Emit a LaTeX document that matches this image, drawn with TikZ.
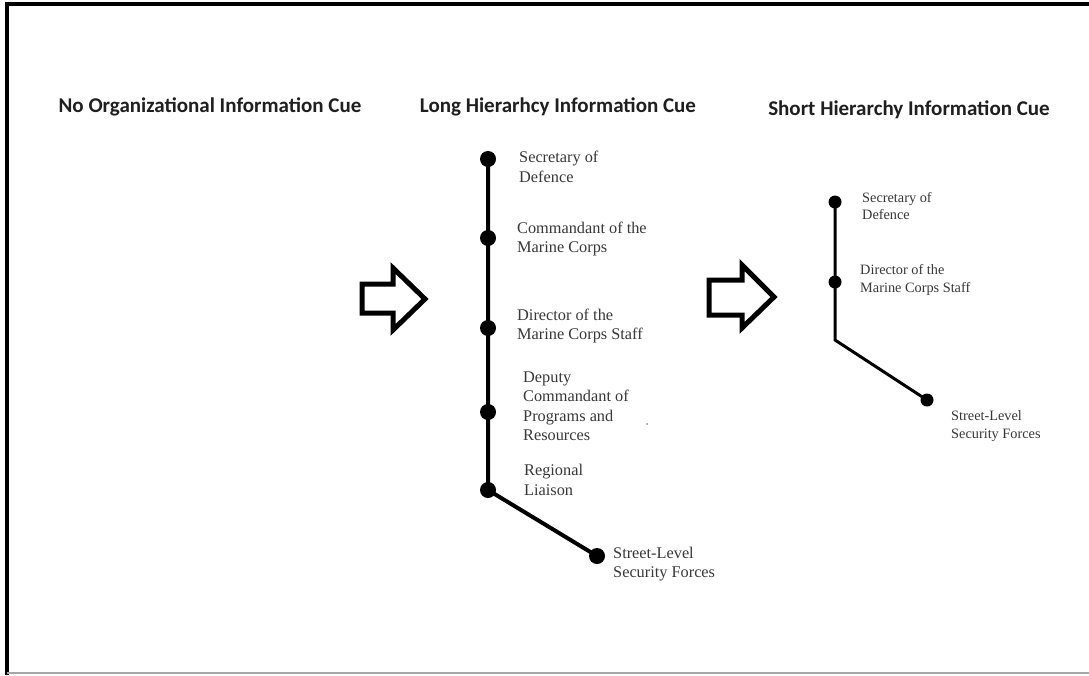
\documentclass[tikz,border=0pt]{standalone}
\usepackage{fontspec}
\setmainfont{Liberation Serif}
\newfontfamily\titlefont{Carlito}
\begin{document}
\begin{tikzpicture}[x=1pt,y=-1pt,
  title/.style={font=\titlefont\bfseries\fontsize{21}{24}\selectfont, text=black!88, inner sep=0pt},
  lbl/.style={font=\fontsize{16.3}{19.5}\selectfont, text=black!78, align=left, anchor=west, inner sep=0pt},
  slbl/.style={font=\fontsize{14.3}{17.5}\selectfont, text=black!78, align=left, anchor=west, inner sep=0pt},
  dot/.style={circle, fill=black, inner sep=0pt, minimum size=16pt},
  sdot/.style={circle, fill=black, inner sep=0pt, minimum size=13pt},
  chain/.style={line width=4pt},
  schain/.style={line width=3pt},
  blockarrow/.style={line width=5pt, line join=miter, fill=white}]
\useasboundingbox (0,0) rectangle (1089,675);
\fill[white] (0,0) rectangle (1089,675);
% frame
\draw[line width=4pt] (6.5,675) -- (6.5,4) -- (1089,4);
\draw[line width=2pt, black!35] (6.5,673) -- (1089,673);
% titles
\node[title] (t1) at (210,107) {No Organizational Information Cue};
\node[title] (t2) at (558,107) {Long Hierarhcy Information Cue};
\node[title] (t3) at (909,110) {Short Hierarchy Information Cue};
% block arrows
\draw[blockarrow] (362,284) -- (393,284) -- (393,268) -- (425,299) -- (393,330) -- (393,313) -- (362,313) -- cycle;
\draw[blockarrow] (709,280) -- (742,280) -- (742,265) -- (774,297) -- (742,328) -- (742,315) -- (709,315) -- cycle;
% long hierarchy
\coordinate (l1) at (488,159);
\coordinate (l2) at (488,238);
\coordinate (l3) at (488,328);
\coordinate (l4) at (488,412);
\coordinate (l5) at (488,490);
\coordinate (l6) at (597,556);
\draw[chain] (l1) -- (l5) -- (l6);
\foreach \p in {l1,l2,l3,l4,l5,l6} \node[dot] at (\p) {};
\node[lbl] (n1) at (519,167) {Secretary of\\Defence};
\node[lbl] (n2) at (517,239) {Commandant of the\\Marine Corps};
\node[lbl] (n3) at (517,326) {Director of the\\Marine Corps Staff};
\node[lbl] (n4) at (523,406) {Deputy\\Commandant of\\Programs and\\Resources};
\node[lbl] (n5) at (524,480) {Regional\\Liaison};
\node[lbl] (n6) at (613,564) {Street-Level\\Security Forces};
\fill[black!45] (647,424) circle (1pt);
% short hierarchy
\coordinate (s1) at (835,202);
\coordinate (s2) at (835,282);
\coordinate (s3) at (835,340);
\coordinate (s4) at (927,400);
\draw[schain] (s1) -- (s3) -- (s4);
\foreach \p in {s1,s2,s4} \node[sdot] at (\p) {};
\node[slbl] (m1) at (862,206) {Secretary of\\Defence};
\node[slbl] (m2) at (860,280) {Director of the\\Marine Corps Staff};
\node[slbl] (m3) at (951,426) {Street-Level\\Security Forces};
\end{tikzpicture}
\end{document}
